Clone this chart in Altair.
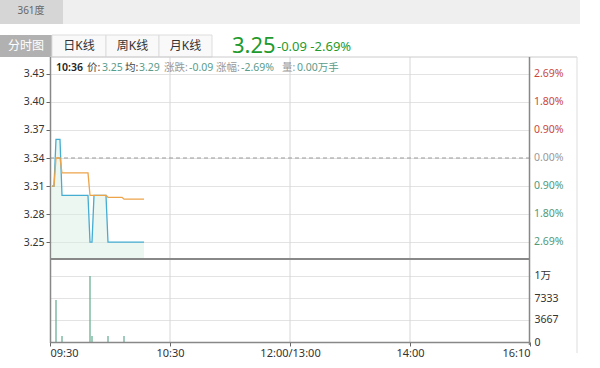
import altair as alt
import pandas as pd

# ---------------- data ----------------
minutes = [1, 2, 3, 4, 5, 6, 7, 8, 9, 10, 11, 12, 13, 14, 15, 16, 17, 18, 19, 20,
           21, 22, 23, 24, 25, 26, 27, 28, 29, 30, 31, 32, 33, 34, 35, 36, 37, 38,
           39, 40, 41, 42, 43, 44, 45, 46, 47]
price = [3.31, 3.31, 3.36, 3.36, 3.36, 3.30, 3.30, 3.30, 3.30, 3.30, 3.30, 3.30,
         3.30, 3.30, 3.30, 3.30, 3.30, 3.30, 3.30, 3.25, 3.25, 3.30, 3.30, 3.30,
         3.30, 3.30, 3.30, 3.30, 3.25, 3.25, 3.25, 3.25, 3.25, 3.25, 3.25, 3.25,
         3.25, 3.25, 3.25, 3.25, 3.25, 3.25, 3.25, 3.25, 3.25, 3.25, 3.25]
avg_price = [3.31, 3.31, 3.34, 3.34, 3.34, 3.324, 3.324, 3.324, 3.324, 3.324,
             3.324, 3.324, 3.324, 3.324, 3.324, 3.324, 3.324, 3.324, 3.324, 3.300,
             3.300, 3.300, 3.300, 3.300, 3.300, 3.300, 3.300, 3.300, 3.298, 3.298,
             3.298, 3.298, 3.298, 3.298, 3.298, 3.298, 3.296, 3.296, 3.296, 3.296,
             3.296, 3.296, 3.296, 3.296, 3.296, 3.296, 3.296]
vol_minutes = [3, 6, 20, 21, 29, 37]
volume = [7000, 1000, 11000, 1000, 1000, 1000]

prev_close = 3.34
price_ticks = [3.43, 3.40, 3.37, 3.34, 3.31, 3.28, 3.25]
pct_labels = ["2.69%", "1.80%", "0.90%", "0.00%", "0.90%", "1.80%", "2.69%"]
pct_sign = ["up", "up", "up", "flat", "down", "down", "down"]
vol_ticks = [0, 3667, 7333, 11000]
vol_tick_labels = ["0", "3667", "7333", "1万"]
time_ticks = [0, 60, 120, 180, 240]
time_labels = ["09:30", "10:30", "12:00/13:00", "14:00", "16:10"]

tabs = ["分时图", "日K线", "周K线", "月K线"]
info_parts = ["10:36", "价:", "3.25", "均:", "3.29", "涨跌:", "-0.09", "涨幅:", "-2.69%", "量:", "0.00万手"]

# ---------------- layout constants ----------------
OX, OY = 50, 57          # plot origin in page pixels
W, H = 480, 285          # plot area (both panels)
PRICE_H = 202            # price panel height
FONT = "Noto Sans, Noto Sans CJK SC, DejaVu Sans"

df = pd.DataFrame({"m": minutes, "price": price, "avg": avg_price})
dv = pd.DataFrame({"m": vol_minutes, "vol": volume})
dpct = pd.DataFrame({"p": price_ticks, "label": pct_labels, "sign": pct_sign})
dgrid = pd.DataFrame({"m": time_ticks[1:-1]})

one = alt.Data(values=[{}])


def ax(v):
    return v - OX


def ay(v):
    return v - OY


def box(x1, y1, x2, y2, fill, stroke=None, opacity=1):
    kw = dict(color=fill, strokeWidth=0, opacity=opacity)
    if stroke:
        kw = dict(fill=fill, stroke=stroke, strokeWidth=1)
    return alt.Chart(one).mark_rect(**kw).encode(
        x=alt.value(ax(x1)), x2=alt.value(ax(x2)),
        y=alt.value(ay(y1)), y2=alt.value(ay(y2)))


def label(txt, x, y, size=11, color="#333", align="left", weight="normal"):
    return alt.Chart(one).mark_text(
        align=align, baseline="middle", fontSize=size, color=color,
        font=FONT, fontWeight=weight).encode(
        x=alt.value(ax(x)), y=alt.value(ay(y)), text=alt.value(txt))


def hline(y, x1, x2, color, width=1, dash=None):
    kw = dict(color=color, strokeWidth=width)
    if dash:
        kw["strokeDash"] = dash
    return alt.Chart(one).mark_rule(**kw).encode(
        x=alt.value(ax(x1)), x2=alt.value(ax(x2)), y=alt.value(ay(y)))


def vline(x, y1, y2, color, width=1):
    return alt.Chart(one).mark_rule(color=color, strokeWidth=width).encode(
        x=alt.value(ax(x)), y=alt.value(ay(y1)), y2=alt.value(ay(y2)))


# ---------------- scales & axes ----------------
time_expr = " : ".join(
    f"datum.value == {t} ? '{l}'" for t, l in zip(time_ticks, time_labels)) + " : ''"
x_axis = alt.Axis(values=time_ticks, labelExpr=time_expr, labelFlush=True,
                  grid=False, domain=False, tickSize=4,
                  tickColor="#666", labelPadding=1, labelColor="#333",
                  labelFontSize=11, labelFont=FONT)
XS = alt.Scale(domain=[0, 240], nice=False, zero=False)
X = alt.X("m:Q", scale=XS, axis=x_axis, title=None)

PS = alt.Scale(domain=[3.232, 3.448], range=[PRICE_H, 0], zero=False, nice=False)
price_axis = alt.Axis(values=price_ticks, format=".2f", grid=True,
                      gridColor="#e3e3e3", domain=False, tickSize=4,
                      tickColor="#666", labelPadding=2, labelColor="#333",
                      labelFontSize=10.5, labelFont=FONT)

VS = alt.Scale(domain=[0, 13833], range=[H, PRICE_H], nice=False)
vol_expr = " : ".join(
    f"datum.value == {t} ? '{l}'" for t, l in zip(vol_ticks, vol_tick_labels)) + " : ''"
vol_axis = alt.Axis(orient="right", values=vol_ticks, labelExpr=vol_expr,
                    grid=True, gridColor="#e3e3e3", domain=False, ticks=False,
                    labelPadding=4, labelColor="#333", labelFontSize=10.5,
                    labelFont=FONT)

# vertical time gridlines through both panels
vgrid = alt.Chart(dgrid).mark_rule(color="#d6d6d6", strokeWidth=1).encode(
    x=X, y=alt.value(0), y2=alt.value(H))

# ---------------- price panel ----------------
area = alt.Chart(df).mark_area(color="#d8eee3", opacity=0.45,
                               interpolate="linear").encode(
    x=X, y=alt.Y("price:Q", scale=PS, axis=price_axis, title=None),
    y2=alt.datum(3.232))
dash = alt.Chart(pd.DataFrame({"p": [prev_close]})).mark_rule(
    color="#999", strokeDash=[4, 3], strokeWidth=1).encode(
    y=alt.Y("p:Q", scale=PS, axis=price_axis, title=None))
price_line = alt.Chart(df).mark_line(color="#45acd2", strokeWidth=1.3).encode(
    x=X, y=alt.Y("price:Q", scale=PS, axis=price_axis, title=None))
avg_line = alt.Chart(df).mark_line(color="#eda449", strokeWidth=1.3).encode(
    x=X, y=alt.Y("avg:Q", scale=PS, axis=price_axis, title=None))
pct_text = alt.Chart(dpct).mark_text(
    align="left", baseline="middle", fontSize=10.5, font=FONT).encode(
    x=alt.value(W + 4),
    y=alt.Y("p:Q", scale=PS, axis=price_axis, title=None),
    text="label:N",
    color=alt.Color("sign:N", scale=alt.Scale(domain=["up", "flat", "down"],
                                              range=["#c9473f", "#999999", "#4e9a7c"]),
                    legend=None))
price_panel = alt.layer(area, dash, price_line, avg_line, pct_text)

# ---------------- volume panel ----------------
vol_bars = alt.Chart(dv).mark_rule(color="#5fa88c", strokeWidth=1.2).encode(
    x=X, y=alt.Y("vol:Q", scale=VS, axis=vol_axis, title=None),
    y2=alt.datum(0))

# ---------------- decorations ----------------
bg = box(0, 0, 600, 368, "#ffffff", opacity=0)
header = [
    box(0, 0, 580, 24, "#efefef"),
    box(0, 0, 63, 24, "#d6d6d6"),
    label("361度", 31, 11, size=10, color="#666", align="center"),
    box(0, 35, 52, 57, "#b1b1b1"),
    box(52, 35, 106, 57, "#f9f9f9", "#dddddd"),
    box(106, 35, 159, 57, "#f9f9f9", "#dddddd"),
    box(159, 35, 212, 57, "#f9f9f9", "#dddddd"),
    label(tabs[0], 26, 46, size=12, color="#ffffff", align="center"),
    label(tabs[1], 79, 46, size=12, color="#333", align="center"),
    label(tabs[2], 132.5, 46, size=12, color="#333", align="center"),
    label(tabs[3], 185.5, 46, size=12, color="#333", align="center"),
    label("3.25", 232, 46, size=22, color="#1f9a2c"),
    label("-0.09 -2.69%", 277, 47, size=13, color="#1f9a2c"),
]
info_x = [56, 87, 102, 125, 139, 164, 189, 216, 241, 282, 297]
info_color = ["#222", "#444", "#5a9c8a", "#444", "#5a9c8a", "#999", "#5a9c8a",
              "#999", "#5a9c8a", "#999", "#5a9c8a"]
info = [label(t, x, 68, size=10.5, color=c, weight=(600 if i == 0 else "normal"))
        for i, (t, x, c) in enumerate(zip(info_parts, info_x, info_color))]

frame = [
    hline(57, 50, 577, "#cccccc"),
    vline(577, 57, 353, "#dddddd"),
    vline(50.5, 57, 343, "#888888", 1.5),
    vline(529.5, 57, 345, "#888888", 1.5),
    hline(259, 50, 530, "#888888", 2),
    hline(342.5, 50, 530, "#888888", 1.5),
]

chart = alt.layer(
    bg, *header, vgrid, price_panel, vol_bars, *info, *frame
).resolve_scale(y="independent").properties(
    width=W, height=H, padding=0,
    autosize=alt.AutoSizeParams(type="pad"),
    background="#ffffff",
).configure_view(stroke=None)

chart.save("out.html", embed_options={"renderer": "svg", "actions": False})
